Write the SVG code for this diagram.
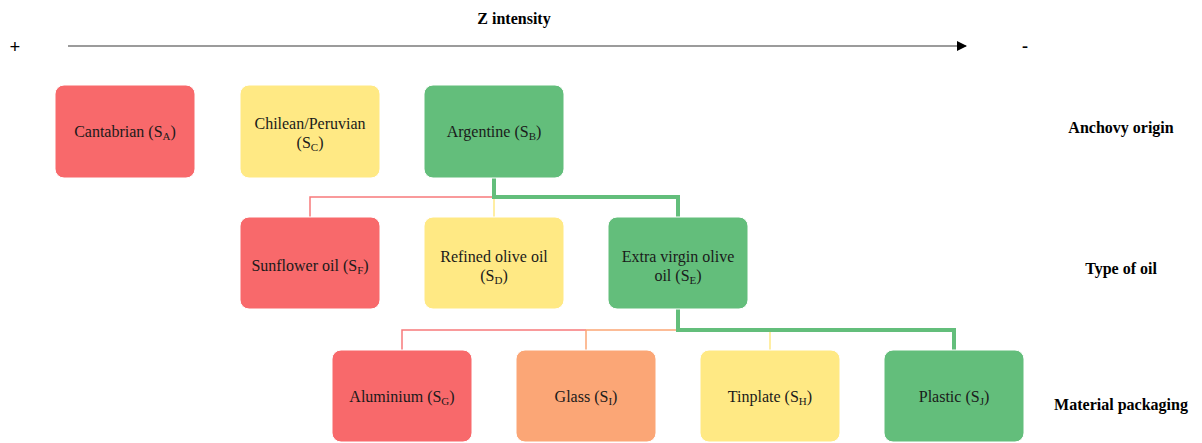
<svg xmlns="http://www.w3.org/2000/svg" width="1202" height="443" viewBox="0 0 1202 443">
<style>
.box{stroke:#ffffff;stroke-width:1}
.red{fill:#F8696B}.yel{fill:#FFE984}.grn{fill:#63BE7B}.org{fill:#FBA676}
.t{font-family:'Liberation Serif',serif;font-size:16px;fill:#1a1a1a;text-anchor:middle}
.sub{font-size:11px}
.b{font-family:'Liberation Serif',serif;font-size:16px;font-weight:bold;fill:#000;text-anchor:middle}
.c{fill:none}
</style>
<defs>
<marker id="ah" viewBox="0 0 10 10" refX="9" refY="5" markerWidth="10" markerHeight="10" markerUnits="userSpaceOnUse" orient="auto">
<path d="M0,0 L10,5 L0,10 z" fill="#000"/>
</marker>
</defs>
<rect width="1202" height="443" fill="#ffffff"/>
<g id="axis" font-family="Liberation Serif, serif">
<text class="b" x="514" y="24">Z intensity</text>
<text class="b" x="15" y="53" style="font-size:19px">+</text>
<text class="b" x="1025" y="52" style="font-size:18px">-</text>
<line x1="68" y1="46" x2="966" y2="46" stroke="#7a7a7a" stroke-width="1.5" marker-end="url(#ah)"/>
</g>
<g id="connectors">
<polyline class="c" points="494,197 310,197 310,217" stroke="#F8797B" stroke-width="1.5"/>
<line x1="494" y1="197" x2="494" y2="217" stroke="#FFE984" stroke-width="1.5"/>
<polyline class="c" points="494,178 494,197 678,197 678,217" stroke="#63BE7B" stroke-width="4"/>
<polyline class="c" points="586,330 402,330 402,350" stroke="#F8797B" stroke-width="1.5"/>
<polyline class="c" points="678,330 586,330 586,350" stroke="#FBA676" stroke-width="1.5"/>
<line x1="770" y1="330" x2="770" y2="350" stroke="#FFE984" stroke-width="1.5"/>
<polyline class="c" points="678,309 678,330 954,330 954,350" stroke="#63BE7B" stroke-width="4"/>
</g>
<g id="n-cantabrian" font-family="Liberation Serif, serif"><rect class="box red" x="55" y="85" width="140" height="93" rx="9"/>
<text class="t" x="125" y="137">Cantabrian (S<tspan class="sub" dy="3">A</tspan><tspan dy="-3">)</tspan></text></g>
<g id="n-chilean" font-family="Liberation Serif, serif"><rect class="box yel" x="240" y="85" width="140" height="93" rx="9"/>
<text class="t" x="310" y="129">Chilean/Peruvian</text>
<text class="t" x="310" y="148">(S<tspan class="sub" dy="3">C</tspan><tspan dy="-3">)</tspan></text></g>
<g id="n-argentine" font-family="Liberation Serif, serif"><rect class="box grn" x="424" y="85" width="140" height="93" rx="9"/>
<text class="t" x="494" y="137">Argentine (S<tspan class="sub" dy="3">B</tspan><tspan dy="-3">)</tspan></text></g>
<g id="n-sunflower" font-family="Liberation Serif, serif"><rect class="box red" x="240" y="217" width="140" height="92" rx="9"/>
<text class="t" x="310" y="271">Sunflower oil (S<tspan class="sub" dy="3">F</tspan><tspan dy="-3">)</tspan></text></g>
<g id="n-refined" font-family="Liberation Serif, serif"><rect class="box yel" x="424" y="217" width="140" height="92" rx="9"/>
<text class="t" x="494" y="262">Refined olive oil</text>
<text class="t" x="494" y="281">(S<tspan class="sub" dy="3">D</tspan><tspan dy="-3">)</tspan></text></g>
<g id="n-extra" font-family="Liberation Serif, serif"><rect class="box grn" x="608" y="217" width="140" height="92" rx="9"/>
<text class="t" x="678" y="262">Extra virgin olive</text>
<text class="t" x="678" y="281">oil (S<tspan class="sub" dy="3">E</tspan><tspan dy="-3">)</tspan></text></g>
<g id="n-aluminium" font-family="Liberation Serif, serif"><rect class="box red" x="332" y="350" width="140" height="92" rx="9"/>
<text class="t" x="402" y="402">Aluminium (S<tspan class="sub" dy="3">G</tspan><tspan dy="-3">)</tspan></text></g>
<g id="n-glass" font-family="Liberation Serif, serif"><rect class="box org" x="516" y="350" width="140" height="92" rx="9"/>
<text class="t" x="586" y="402">Glass (S<tspan class="sub" dy="3">I</tspan><tspan dy="-3">)</tspan></text></g>
<g id="n-tinplate" font-family="Liberation Serif, serif"><rect class="box yel" x="700" y="350" width="140" height="92" rx="9"/>
<text class="t" x="770" y="402">Tinplate (S<tspan class="sub" dy="3">H</tspan><tspan dy="-3">)</tspan></text></g>
<g id="n-plastic" font-family="Liberation Serif, serif"><rect class="box grn" x="884" y="350" width="140" height="92" rx="9"/>
<text class="t" x="954" y="402">Plastic (S<tspan class="sub" dy="3">J</tspan><tspan dy="-3">)</tspan></text></g>
<g id="labels" font-family="Liberation Serif, serif">
<text class="b" x="1121" y="133">Anchovy origin</text>
<text class="b" x="1121" y="274">Type of oil</text>
<text class="b" x="1121" y="410">Material packaging</text>
</g>
</svg>
